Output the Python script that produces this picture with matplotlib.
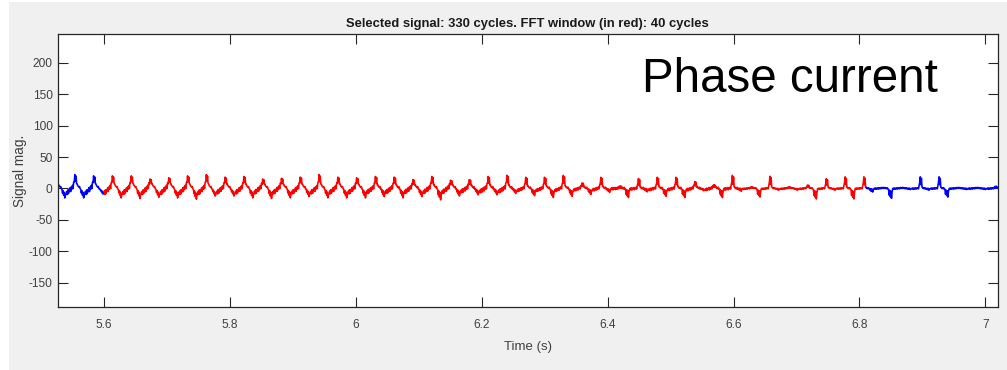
import numpy as np
import matplotlib
matplotlib.use("Agg")
import matplotlib.pyplot as plt
from matplotlib.patches import Rectangle
from matplotlib import font_manager

# ---- timing (s) ----
period = 0.02984            # one current cycle
first_cycle_start = 5.5099  # each cycle runs trough -> peak -> trough
fft_window = (5.600, 6.810) # span drawn in red

# ---- per-cycle readings of the phase current ----
cycle_peak = [19, 21, 19,
              19, 19, 14, 16, 19, 21, 17, 18, 14, 15,
              17, 21, 17, 16, 18, 17, 13, 18, 12, 13,
              18, 20, 17, 17, 20, 8, 17, 3, 15, 17,
              17, 10, 5, 20, 2, 19, 2, 5, 15, 18,
              18, 1, 1, 18, 18, 1, 1, 3]
cycle_trough = [-13, -13, -6,
                -13, -14, -12, -13, -15, -10, -10, -13, -14, -13,
                -11, -13, -13, -13, -11, -13, -11, -16, -10, -8,
                -8, -6, -10, -13, -11, -8, -5, -13, -4, -11,
                -13, -2, -13, -3, -13, -2, -2, -16, -2, -16,
                -5, -15, -1, -2, -13, -1, -1, -1]
hump_amp = ([9] * 9 + [8] * 8 + [7] * 5 + [6] * 3 + [4] * 3 +
            [3, 3, 1, 1.5, 2.5, 2.5, 3, 2.5, 1.5] + [1] * 5 + [0.6] * 9)
ripple_amp = [2.5] * 25 + [1.8] * 12 + [1.0] * 14

# ---- one-cycle shapes, 32 samples from trough to trough ----
hump_shape = [-1.00, -0.78, -0.92, -0.55, -0.70, -0.35, -0.48, -0.12,
              -0.28, 0.10, -0.05, 0.35, 0.18, 0.60, 0.45, 0.85,
              1.00, 0.72, 0.88, 0.50, 0.66, 0.30, 0.44, 0.08,
              0.22, -0.15, 0.00, -0.38, -0.22, -0.62, -0.45, -0.85]
spike_up_shape = [0] * 13 + [0.15, 0.55, 1.00, 0.35, 0.85, 0.10] + [0] * 13
spike_dn_shape = [0] * 25 + [-0.15, -0.70, -0.25, -0.85, -0.35, -1.00, -0.40]
ripple_shape = [0.0, 0.8, -0.6, 1.0, -0.9, 0.5, -0.4, 0.9,
                -1.0, 0.6, -0.3, 0.7, -0.8, 1.0, -0.5, 0.4,
                -0.9, 0.8, -0.6, 1.0, -0.7, 0.3, -0.8, 0.9,
                -1.0, 0.5, -0.4, 0.8, -0.6, 1.0, -0.9, 0.2]

# ---- axes ----
x_ticks = [5.6, 5.8, 6.0, 6.2, 6.4, 6.6, 6.8, 7.0]
x_tick_labels = ["5.6", "5.8", "6", "6.2", "6.4", "6.6", "6.8", "7"]
y_ticks = [-150, -100, -50, 0, 50, 100, 150, 200]
x_range = (5.527, 7.020)
y_range = (-189, 246)

title_text = "Selected signal: 330 cycles. FFT window (in red): 40 cycles"
note_text = "Phase current"

# ---- build the sampled waveform ----
hs = np.asarray(hump_shape, float)
su = np.asarray(spike_up_shape, float)
sd = np.asarray(spike_dn_shape, float)
rs = np.asarray(ripple_shape, float)
n = len(hs)
i_up = int(np.argmax(su))
i_dn = int(np.argmin(sd))

t_all, y_all = [], []
for c, (pk, tr, h, r) in enumerate(zip(cycle_peak, cycle_trough,
                                       hump_amp, ripple_amp)):
    t = first_cycle_start + (c + np.arange(n) / n) * period
    up_h = max(pk - h * hs[i_up], 0.0)
    dn_h = max(-tr + h * hs[i_dn], 0.0)
    t_all.append(t)
    y_all.append(h * hs + up_h * su + dn_h * sd + r * rs)
t_all = np.concatenate(t_all)
y_all = np.concatenate(y_all)

i0 = int(np.searchsorted(t_all, fft_window[0]))
i1 = int(np.searchsorted(t_all, fft_window[1]))

# ---- fonts ----
available = {f.name for f in font_manager.fontManager.ttflist}
narrow = next((f for f in ["Liberation Sans Narrow", "DejaVu Sans Condensed",
                           "Arial Narrow", "Liberation Sans"]
               if f in available), "DejaVu Sans")

W, H, DPI = 1007, 370, 100
plt.rcParams["font.family"] = ["Liberation Sans", "DejaVu Sans"]
plt.rcParams["axes.unicode_minus"] = False

fig = plt.figure(figsize=(W / DPI, H / DPI), dpi=DPI, facecolor="white")
fig.patches.append(Rectangle((9 / W, 0), 1 - 9 / W, (H - 2) / H,
                             transform=fig.transFigure, facecolor="#f0f0f0",
                             edgecolor="none", zorder=-10))

ax = fig.add_axes([58 / W, 1 - 307 / H, (998 - 58) / W, (307 - 34) / H])
ax.set_facecolor("white")

lw = 1.15
ax.plot(t_all[:i0 + 1], y_all[:i0 + 1], color=(0, 0, 1), lw=lw)
ax.plot(t_all[i0:i1 + 1], y_all[i0:i1 + 1], color=(1, 0, 0), lw=lw)
ax.plot(t_all[i1:], y_all[i1:], color=(0, 0, 1), lw=lw)

ax.set_xlim(*x_range)
ax.set_ylim(*y_range)
ax.set_xticks(x_ticks)
ax.set_xticklabels(x_tick_labels)
ax.set_yticks(y_ticks)

edge = "#262626"
for s in ax.spines.values():
    s.set_color(edge)
    s.set_linewidth(0.9)
ax.tick_params(direction="in", length=7, width=0.8, top=True, right=True,
               color=edge, labelcolor="#404040", labelsize=8.6)
ax.tick_params(axis="x", pad=9)
ax.tick_params(axis="y", pad=4)

ax.set_xlabel("Time (s)", fontsize=9.5, color="#404040", labelpad=7)
ax.set_ylabel("Signal mag.", fontsize=9.8, color="#404040", labelpad=1.5)

# title and annotation, sized to their pixel widths
renderer = fig.canvas.get_renderer()

def fit_text(txt, target_px):
    w = txt.get_window_extent(renderer).width
    txt.set_fontsize(txt.get_fontsize() * target_px / w)

title = fig.text(527.5 / W, 1 - 26.5 / H, title_text, ha="center",
                 va="baseline", fontweight="bold", fontsize=9,
                 family=[narrow, "Liberation Sans"], color="#1a1a1a")
fit_text(title, 364)

note = fig.text(642 / W, 1 - 92 / H, note_text, ha="left", va="baseline",
                fontsize=32, color="black")
fit_text(note, 296)

fig.savefig("out.png", dpi=DPI, facecolor=fig.get_facecolor())
